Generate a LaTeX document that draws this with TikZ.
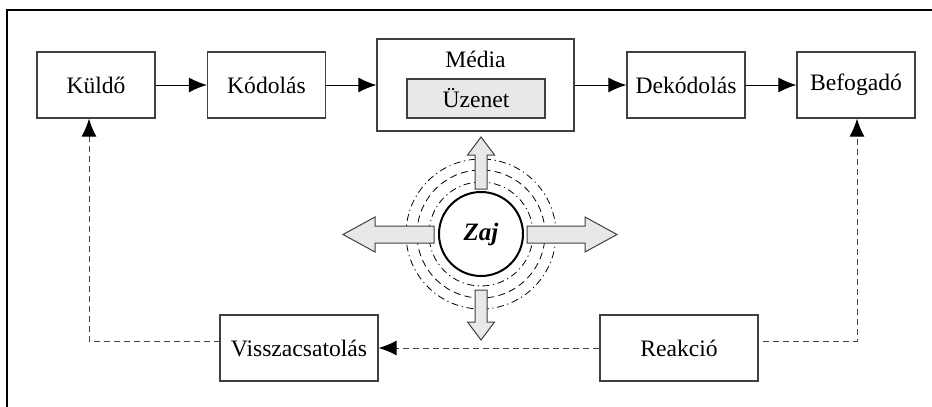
\documentclass[tikz,border=0pt]{standalone}
\usepackage{fontspec}
\setmainfont{Liberation Serif}
\usetikzlibrary{arrows.meta}
\definecolor{boxline}{HTML}{404040}
\definecolor{lightfill}{HTML}{E8E8E8}
\definecolor{dashgray}{HTML}{444444}
\tikzset{
  x=0.5pt,y=-0.5pt,
  box/.style={draw=boxline,line width=0.65pt,minimum width=59pt,minimum height=33pt,inner sep=0pt,font=\fontsize{11.8}{13}\selectfont},
  flow/.style={line width=0.5pt,-{Latex[length=9pt,width=7.5pt]}},
  fb/.style={draw=dashgray,line width=0.5pt,dash pattern=on 3pt off 2pt},
  fbarrow/.style={fb,-{Latex[length=9pt,width=7.5pt,color=black]}},
  ringdd/.style={line width=0.4pt,dash pattern=on 3.5pt off 1.8pt on 0.6pt off 1.8pt},
  ringd/.style={line width=0.4pt,dash pattern=on 3.5pt off 2.2pt},
  blockarrow/.style={draw=boxline,fill=lightfill,line width=0.5pt,line join=miter}
}
\begin{document}
\begin{tikzpicture}
\useasboundingbox (0,0) rectangle (932,407);
% frame (cropped)
\draw[line width=1pt] (7,407) -- (7,10) -- (932,10);
% top row
\node[box] (kul) at (96,85) {Küldő};
\node[box] (kod) at (266.5,85) {Kódolás};
\node[box,minimum width=98.5pt,minimum height=46pt] (med) at (475.5,85) {};
\node[font=\fontsize{11.8}{13}\selectfont] (medt) at (475.5,59) {Média};
\node[box,fill=lightfill,minimum width=69pt,minimum height=19.5pt] (uz) at (476,98.5) {Üzenet};
\node[box] (dek) at (686,85) {Dekódolás};
\node[box] (bef) at (856,85) {Befogadó};
% bottom row
\node[box,minimum width=79pt] (vis) at (299,348) {Visszacsatolás};
\node[box,minimum width=79pt] (rea) at (679,348) {Reakció};
% flow arrows
\draw[flow] (kul) -- (kod);
\draw[flow] (kod) -- (med);
\draw[flow] (med) -- (dek);
\draw[flow] (dek) -- (bef);
% feedback
\draw[fbarrow] (rea) -- (vis);
\coordinate (v1) at (220,341);
\coordinate (v2) at (89,341);
\draw[fbarrow] (v1) -- (v2) -- (v2 |- kul.south);
\coordinate (r1) at (763,341);
\coordinate (r2) at (857,341);
\draw[fbarrow] (r1) -- (r2) -- (r2 |- bef.south);
% noise rings
\draw[ringdd] (481,234) circle[radius=37.5pt];
\draw[ringd] (481,234) circle[radius=32pt];
\draw[ringdd] (481,234) circle[radius=26pt];
% block arrows
\draw[blockarrow] (475,189) -- (475,155) -- (467.5,155) -- (481,137) -- (494.5,155) -- (487,155) -- (487,189) -- cycle;
\draw[blockarrow] (475,290) -- (475,322) -- (467.5,322) -- (481,340) -- (494.5,322) -- (487,322) -- (487,290) -- cycle;
\draw[blockarrow] (434,226) -- (375,226) -- (375,217) -- (343,234.5) -- (375,252) -- (375,243) -- (434,243) -- cycle;
\draw[blockarrow] (527,226) -- (585,226) -- (585,217) -- (617,234.5) -- (585,252) -- (585,243) -- (527,243) -- cycle;
% noise circle
\node[circle,draw=black,fill=white,line width=1pt,minimum size=42pt,inner sep=0pt,font=\fontsize{12.5}{14}\selectfont\bfseries\itshape] (zaj) at (481,234) {Zaj};
\end{tikzpicture}
\end{document}
